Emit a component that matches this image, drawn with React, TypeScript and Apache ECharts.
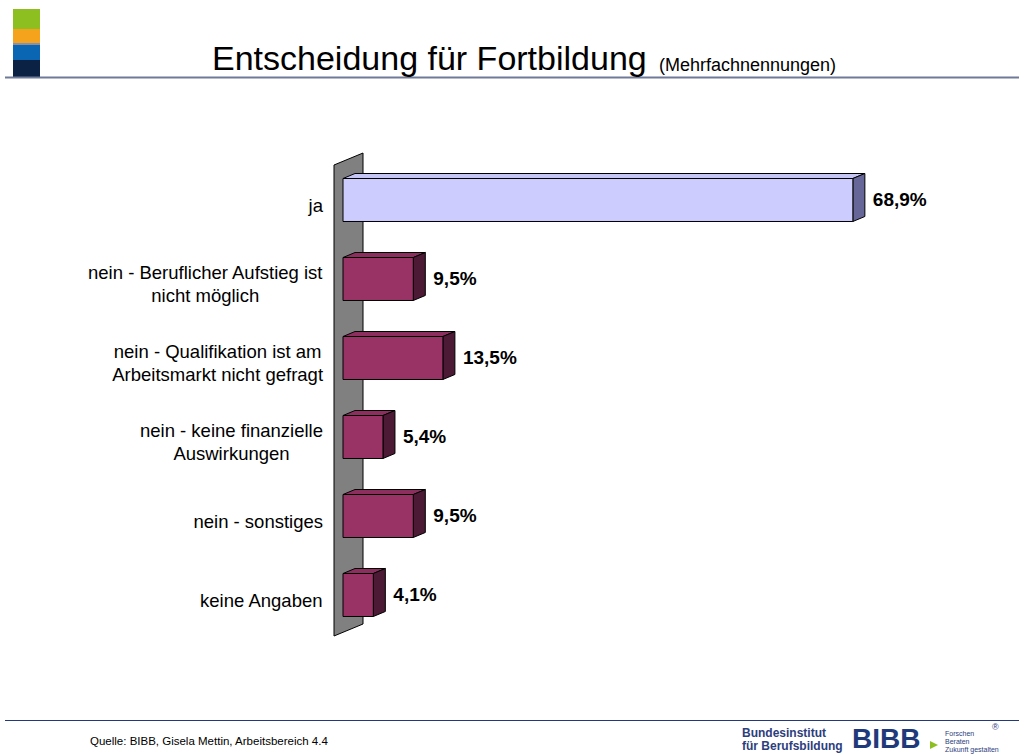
import React, { useEffect, useRef } from "react";
import * as echarts from "echarts";

const categories = [
  "ja",
  "nein - Beruflicher Aufstieg ist\nnicht möglich",
  "nein - Qualifikation ist am\nArbeitsmarkt nicht gefragt",
  "nein - keine finanzielle\nAuswirkungen",
  "nein - sonstiges",
  "keine Angaben",
];
const values = [68.9, 9.5, 13.5, 5.4, 9.5, 4.1];

const titleText = "Entscheidung für Fortbildung";
const subtitleText = "(Mehrfachnennungen)";
const sourceText = "Quelle: BIBB, Gisela Mettin, Arbeitsbereich 4.4";

const FONT = '"Liberation Sans", Arial, Helvetica, sans-serif';

function fmt(v: number) {
  return v.toFixed(1).replace(".", ",") + "%";
}

export default function App() {
  const ref = useRef<HTMLDivElement>(null);
  useEffect(() => {
    if (!ref.current) return;
    const chart = echarts.init(ref.current, null, { renderer: "svg" });
    const option: any = {
      animation: false,
      backgroundColor: "#ffffff",
      textStyle: { fontFamily: FONT },
      grid: { left: 343, width: 592, top: 160.5, height: 474 },
      xAxis: {
        type: "value",
        min: 0,
        max: 80,
        show: false,
      },
      yAxis: {
        type: "category",
        inverse: true,
        data: categories,
        axisLine: { show: false },
        axisTick: { show: false },
        splitLine: { show: false },
        axisLabel: {
          margin: 20,
          align: "right",
          color: "#000",
          fontFamily: FONT,
          fontSize: 18.5,
          lineHeight: 23,
          padding: [10, 0, 0, 0],
          formatter: (s: string) =>
            s
              .split("\n")
              .map((l) => `{c|${l}}`)
              .join("\n"),
          rich: {
            c: {
              align: "center",
              fontFamily: FONT,
              fontSize: 18.5,
              lineHeight: 23,
              color: "#000",
            },
          },
        },
      },
      graphic: [
        // header logo blocks
        { type: "rect", z: 0, shape: { x: 13, y: 9, width: 27, height: 20 }, style: { fill: "#8CBF1F" } },
        { type: "rect", z: 0, shape: { x: 13, y: 29, width: 27, height: 14 }, style: { fill: "#F5A31C" } },
        { type: "rect", z: 0, shape: { x: 13, y: 43, width: 27, height: 2 }, style: { fill: "#8A8FA8" } },
        { type: "rect", z: 0, shape: { x: 13, y: 45, width: 27, height: 15 }, style: { fill: "#0A66B2" } },
        { type: "rect", z: 0, shape: { x: 13, y: 60, width: 27, height: 18 }, style: { fill: "#0B2244" } },
        { type: "line", z: 0, shape: { x1: 5, y1: 77.5, x2: 1019, y2: 77.5 }, style: { stroke: "#6E7A98", lineWidth: 2 } },
        {
          type: "text", z: 1, x: 212, y: 58,
          style: { text: titleText, font: `34px ${FONT}`, fill: "#000", align: "left", verticalAlign: "middle" },
        },
        {
          type: "text", z: 1, x: 659, y: 64.7,
          style: { text: subtitleText, font: `18px ${FONT}`, fill: "#000", align: "left", verticalAlign: "middle" },
        },
        // back wall
        {
          type: "polygon", z: 0,
          shape: { points: [[334, 165], [363, 153], [363, 624], [334, 636]] },
          style: { fill: "#808080", stroke: "#000", lineWidth: 1 },
        },
        // footer
        { type: "line", z: 0, shape: { x1: 5, y1: 720.5, x2: 1019, y2: 720.5 }, style: { stroke: "#23397A", lineWidth: 1.2 } },
        {
          type: "text", z: 1, x: 90, y: 741,
          style: { text: sourceText, font: `11.5px ${FONT}`, fill: "#000", align: "left", verticalAlign: "middle" },
        },
        {
          type: "text", z: 1, x: 742, y: 733,
          style: { text: "Bundesinstitut", font: `bold 12px ${FONT}`, fill: "#2C3E7C", align: "left", verticalAlign: "middle" },
        },
        {
          type: "text", z: 1, x: 742, y: 746,
          style: { text: "für Berufsbildung", font: `bold 12px ${FONT}`, fill: "#2C3E7C", align: "left", verticalAlign: "middle" },
        },
        {
          type: "text", z: 1, x: 852, y: 738,
          style: { text: "BIBB", font: `bold 28px ${FONT}`, fill: "#1F3A7A", align: "left", verticalAlign: "middle" },
        },
        {
          type: "polygon", z: 1,
          shape: { points: [[930, 741], [938, 745], [930, 749]] },
          style: { fill: "#8CBF1F" },
        },
        {
          type: "text", z: 1, x: 945, y: 733,
          style: { text: "Forschen", font: `7px ${FONT}`, fill: "#2C3E7C", align: "left", verticalAlign: "middle" },
        },
        {
          type: "text", z: 1, x: 945, y: 741,
          style: { text: "Beraten", font: `7px ${FONT}`, fill: "#2C3E7C", align: "left", verticalAlign: "middle" },
        },
        {
          type: "text", z: 1, x: 945, y: 749,
          style: { text: "Zukunft gestalten", font: `7px ${FONT}`, fill: "#2C3E7C", align: "left", verticalAlign: "middle" },
        },
        {
          type: "text", z: 1, x: 992, y: 727,
          style: { text: "®", font: `9px ${FONT}`, fill: "#2C3E7C", align: "left", verticalAlign: "middle" },
        },
      ],
      series: [
        {
          type: "custom",
          z: 5,
          encode: { x: 0, y: 1 },
          data: values.map((v, i) => [v, i]),
          renderItem: (params: any, api: any) => {
            const v = api.value(0);
            const i = api.value(1);
            const p0 = api.coord([0, i]);
            const p1 = api.coord([v, i]);
            const band = api.size([0, 1])[1];
            const h = band * 0.544;
            const x0 = p0[0];
            const x1 = p1[0];
            const yc = p0[1];
            const top = yc - h / 2;
            const bot = yc + h / 2;
            const dx = 12;
            const dy = -5;
            const first = i === 0;
            const front = first ? "#CCCCFF" : "#993366";
            const topC = first ? "#C6C6F4" : "#8C2F5E";
            const side = first ? "#666699" : "#4D1A35";
            const stroke = { stroke: "#000", lineWidth: 1 };
            return {
              type: "group",
              children: [
                {
                  type: "polygon",
                  shape: { points: [[x0, top], [x0 + dx, top + dy], [x1 + dx, top + dy], [x1, top]] },
                  style: { fill: topC, ...stroke },
                },
                {
                  type: "polygon",
                  shape: { points: [[x1, top], [x1 + dx, top + dy], [x1 + dx, bot + dy], [x1, bot]] },
                  style: { fill: side, ...stroke },
                },
                {
                  type: "rect",
                  shape: { x: x0, y: top, width: x1 - x0, height: h },
                  style: { fill: front, ...stroke },
                },
                {
                  type: "text",
                  x: x1 + 20,
                  y: yc - 1,
                  style: {
                    text: fmt(v),
                    font: `bold 19px ${FONT}`,
                    fill: "#000",
                    align: "left",
                    verticalAlign: "middle",
                  },
                },
              ],
            };
          },
        },
      ],
    };
    chart.setOption(option);
    return () => chart.dispose();
  }, []);
  return (
    <div
      ref={ref}
      style={{ position: "fixed", left: 0, top: 0, width: 1019, height: 755, background: "#fff" }}
    />
  );
}
